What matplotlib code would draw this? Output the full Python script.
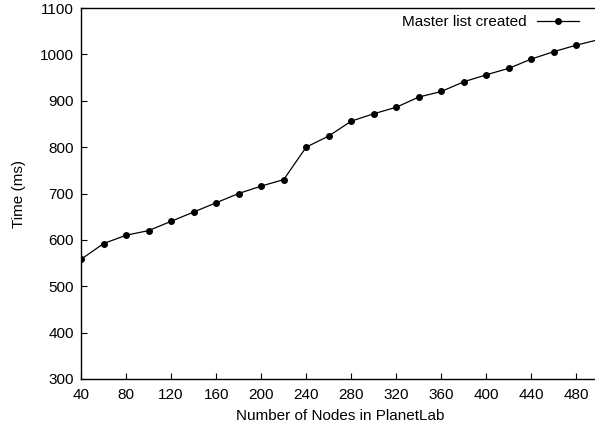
import matplotlib
matplotlib.use("Agg")
import matplotlib.pyplot as plt

plt.rcParams["font.family"] = ["Liberation Sans", "DejaVu Sans"]

# node counts and time to build the master list
nodes = [40, 60, 80, 100, 120, 140, 160, 180, 200, 220, 240, 260,
         280, 300, 320, 340, 360, 380, 400, 420, 440, 460, 480, 500]
time_ms = [558, 592, 610, 620, 640, 660, 680, 700, 716, 730, 800, 824,
           856, 872, 886, 908, 920, 941, 956, 970, 990, 1006, 1020, 1032]

x_ticks = list(range(40, 500, 40))
y_ticks = list(range(300, 1101, 100))

fig = plt.figure(figsize=(5.95, 4.29), dpi=100)
ax = fig.add_axes([81 / 595, 50 / 429, 518 / 595, 371 / 429])

ax.plot(nodes, time_ms, color="black", lw=0.9, marker="o", markersize=4,
        label="Master list created", clip_on=True)

ax.set_xlim(40, 500)
ax.set_ylim(300, 1100)
ax.set_xticks(x_ticks)
ax.set_yticks(y_ticks)
ax.tick_params(direction="in", length=4, width=0.8, labelsize=11,
               colors="black")
ax.tick_params(axis="x", pad=6.5)
ax.tick_params(axis="y", pad=5)
for side in ("top", "bottom", "left", "right"):
    ax.spines[side].set_linewidth(1.0)

ax.set_xlabel("Number of Nodes in PlanetLab", fontsize=11, labelpad=5)
ax.set_ylabel("Time (ms)", fontsize=11, labelpad=10)

ax.legend(loc="upper right", bbox_to_anchor=(0.983, 1.01), frameon=False,
          markerfirst=False, fontsize=11, handlelength=2.75,
          handletextpad=0.7, borderaxespad=0.3)

fig.savefig("out.png", dpi=100)
